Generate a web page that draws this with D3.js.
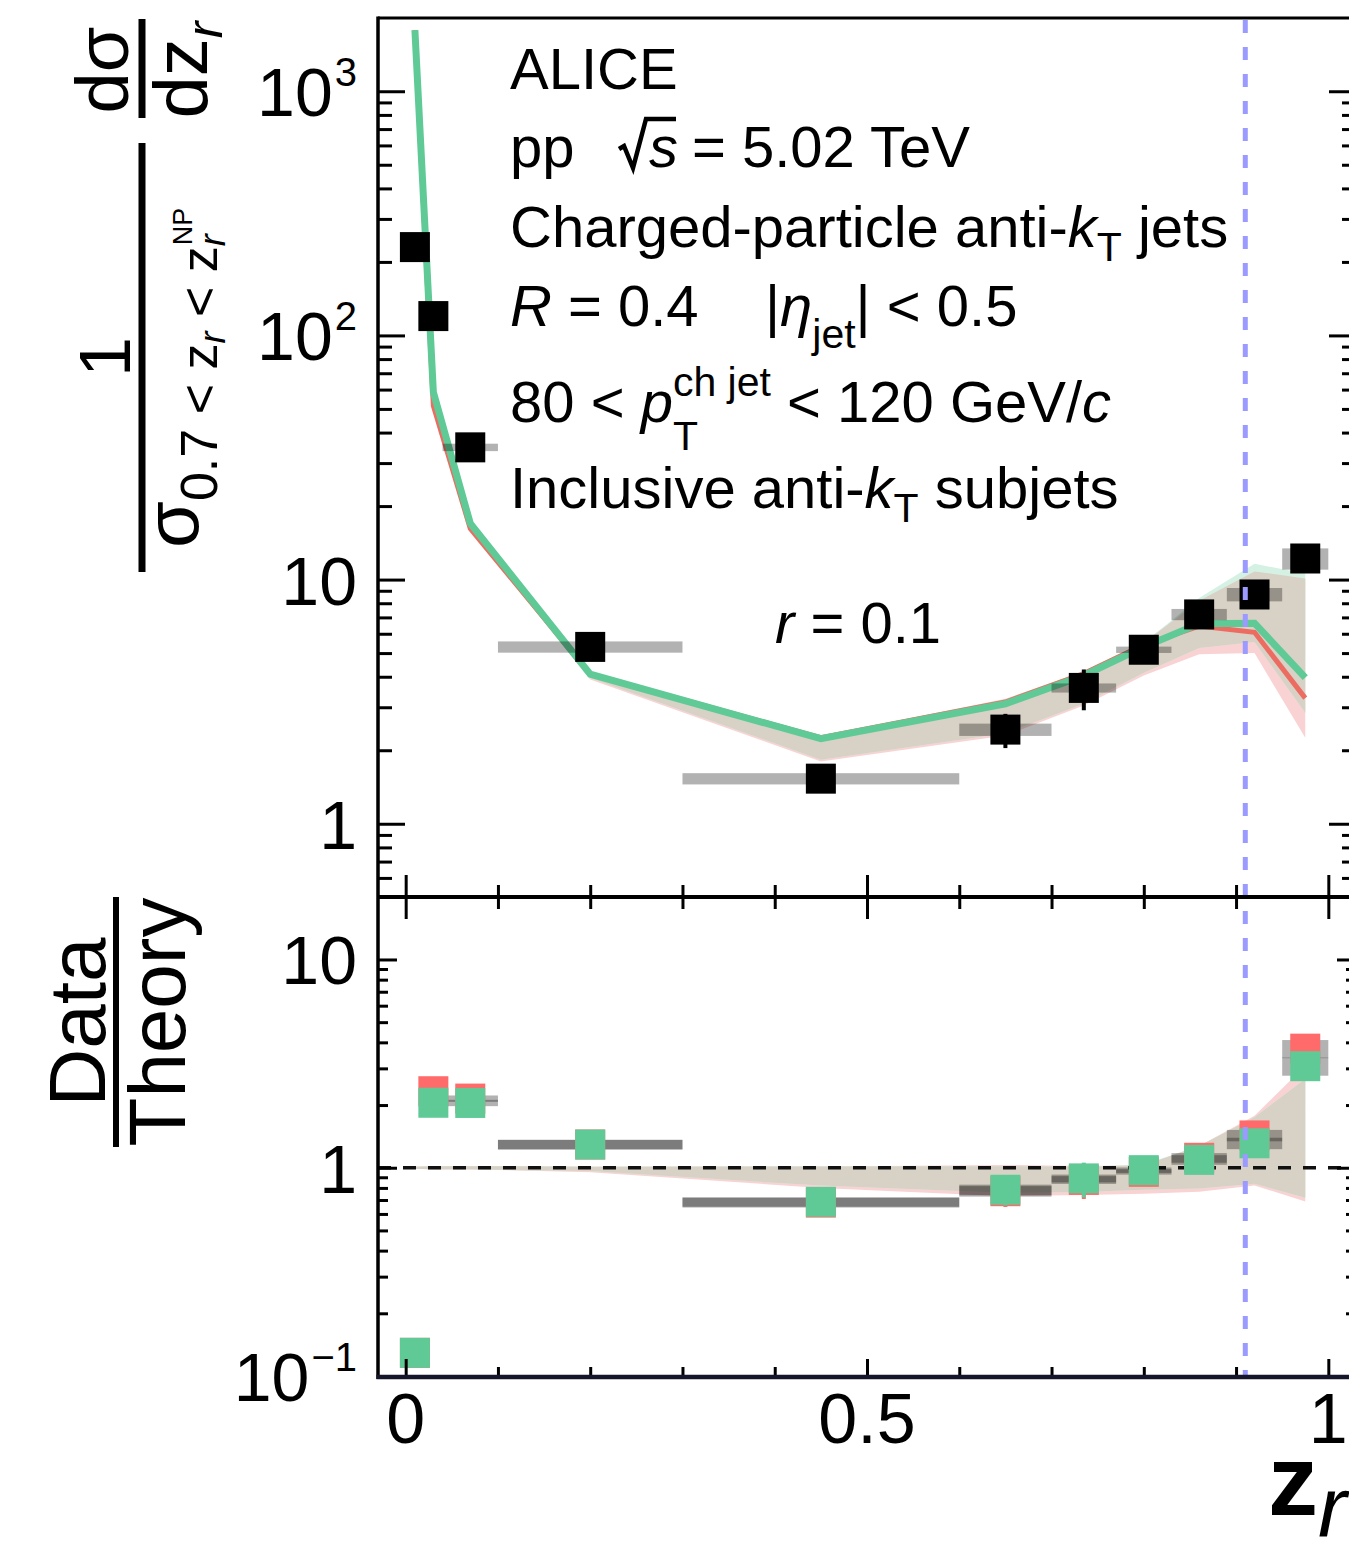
<!DOCTYPE html>
<html>
<head>
<meta charset="utf-8">
<script src="https://cdn.jsdelivr.net/npm/d3@7"></script>
<style>
  html, body { margin: 0; padding: 0; background: #fff; }
  svg { display: block; font-family: "Liberation Sans", Arial, Helvetica, sans-serif; }
</style>
</head>
<body>
<svg id="chart" width="1349" height="1545"></svg>
<script>
// ---- measured distribution, binned in z_r ----
const binLow    = [0, 0.02, 0.04, 0.1, 0.3, 0.6, 0.7, 0.77, 0.83, 0.89, 0.95];
const binHigh   = [0.02, 0.04, 0.1, 0.3, 0.6, 0.7, 0.77, 0.83, 0.89, 0.95, 1.0];
const binCenter = [0.01, 0.03, 0.07, 0.2, 0.45, 0.65, 0.735, 0.8, 0.86, 0.92, 0.975];
const dataValue = [230, 120, 34.8, 5.3, 1.53, 2.43, 3.6, 5.16, 7.2, 8.69, 12.2];
const dataStat  = [0.01, 0.02, 0.02, 0.03, 0.05, 0.16, 0.19, 0.05, 0.05, 0.06, 0.06]; // relative
const dataSys   = [0.05, 0.05, 0.035, 0.053, 0.053, 0.058, 0.043, 0.03, 0.053, 0.063, 0.1]; // relative

// ---- theory predictions at the bin centres (green and red calculations) ----
const greenCentral = [1780, 58.5, 17.0, 4.1, 2.23, 3.1, 4.05, 5.3, 6.6, 6.63, 3.97];
const greenLow     = [1760, 57.5, 16.7, 3.95, 1.83, 2.35, 3.1, 4.15, 5.25, 5.55, 2.85];
const greenHigh    = [1800, 59.5, 17.3, 4.15, 2.26, 3.15, 4.1, 5.5, 8.4, 11.6, 10.6];
const redCentral   = [1780, 51.5, 16.2, 4.1, 2.25, 3.15, 4.12, 5.4, 6.45, 6.08, 3.27];
const redLow       = [1760, 50.5, 15.9, 3.9, 1.80, 2.3, 3.05, 4.05, 4.95, 5.0, 2.25];
const redHigh      = [1800, 52.5, 16.5, 4.15, 2.28, 3.25, 4.2, 5.55, 8.2, 10.8, 10.1];

// non-perturbative boundary z_r^NP
const zNP = 0.91;

// ---- axis ticks ----
const xMajor = [0, 0.5, 1];
const xMinor = [0.1, 0.2, 0.3, 0.4, 0.6, 0.7, 0.8, 0.9];
const xTickLabels = ["0", "0.5", "1"];
const topMajor = [1, 10, 100, 1000];
const topLabels = [["1", ""], ["10", ""], ["10", "2"], ["10", "3"]];
const ratioMajor = [0.1, 1, 10];
const ratioLabels = [["10", "\u22121"], ["1", ""], ["10", ""]];

function minorLog(lo, hi) {
  const out = [];
  for (let d = -2; d <= 4; d++) for (let m = 2; m <= 9; m++) {
    const v = m * Math.pow(10, d);
    if (v > lo * 1.0001 && v < hi * 0.9999) out.push(v);
  }
  return out;
}

// ---- geometry ----
const svg = d3.select("#chart");
const frameL = 378, frameR = 1356, topT = 18, midY = 897, botY = 1377;
const x = d3.scaleLinear().domain([-0.03, 1.03]).range([frameL, frameR]);
const yTop = d3.scaleLog().domain([Math.pow(10, -0.3), Math.pow(10, 3.3)]).range([midY, topT]);
const yRat = d3.scaleLog().domain([0.1, Math.pow(10, 1.3)]).range([1376, midY]);

const colGreen = "#5fca96", colRed = "#ec6c62", colRedSq = "#ff6a6a";
const colPink = "#f9d3d3", colMint = "#d5f1e3", colTan = "#d8d1c5";

const defs = svg.append("defs");
defs.append("clipPath").attr("id", "clipTop").append("rect")
  .attr("x", frameL).attr("y", topT).attr("width", frameR - frameL).attr("height", midY - topT);
defs.append("clipPath").attr("id", "clipRat").append("rect")
  .attr("x", frameL).attr("y", midY).attr("width", frameR - frameL).attr("height", botY - midY);

// rows for the theory nodes
const nodes = binCenter.map((z, i) => ({
  z,
  g: greenCentral[i], gLo: greenLow[i], gHi: greenHigh[i],
  r: redCentral[i], rLo: redLow[i], rHi: redHigh[i]
}));
const points = binCenter.map((z, i) => ({
  z, lo: binLow[i], hi: binHigh[i], v: dataValue[i], stat: dataStat[i], sys: dataSys[i],
  ratG: dataValue[i] / greenCentral[i], ratR: dataValue[i] / redCentral[i]
}));

function band(yScale, lo, hi) {
  return d3.area().x(d => x(d.z)).y0(d => yScale(lo(d))).y1(d => yScale(hi(d)));
}
function curve(yScale, f) {
  return d3.line().x(d => x(d.z)).y(d => yScale(f(d)));
}

// ================= upper panel =================
const mainG = svg.append("g").attr("clip-path", "url(#clipTop)");
mainG.append("path").datum(nodes).attr("fill", colPink).attr("d", band(yTop, d => d.rLo, d => d.rHi));
mainG.append("path").datum(nodes).attr("fill", colMint).attr("d", band(yTop, d => d.gLo, d => d.gHi));
mainG.append("path").datum(nodes).attr("fill", colTan)
  .attr("d", band(yTop, d => Math.max(d.gLo, d.rLo), d => Math.min(d.gHi, d.rHi)));
mainG.append("path").datum(nodes).attr("fill", "none").attr("stroke", colRed).attr("stroke-width", 5)
  .attr("d", curve(yTop, d => d.r));
mainG.append("path").datum(nodes).attr("fill", "none").attr("stroke", colGreen).attr("stroke-width", 7)
  .attr("d", curve(yTop, d => d.g));

// systematic boxes
mainG.selectAll("rect.sys").data(points).join("rect").attr("class", "sys")
  .attr("x", d => x(d.lo)).attr("width", d => x(d.hi) - x(d.lo))
  .attr("y", d => yTop(d.v * (1 + d.sys))).attr("height", d => yTop(d.v * (1 - d.sys)) - yTop(d.v * (1 + d.sys)))
  .attr("fill", "#000").attr("fill-opacity", 0.3);
// statistical bars
mainG.selectAll("line.stat").data(points).join("line").attr("class", "stat")
  .attr("x1", d => x(d.z)).attr("x2", d => x(d.z))
  .attr("y1", d => yTop(d.v * (1 + d.stat))).attr("y2", d => yTop(d.v * (1 - d.stat)))
  .attr("stroke", "#000").attr("stroke-width", 4);
// markers
const sq = 30;
mainG.selectAll("rect.pt").data(points).join("rect").attr("class", "pt")
  .attr("x", d => x(d.z) - sq / 2).attr("y", d => yTop(d.v) - sq / 2)
  .attr("width", sq).attr("height", sq).attr("fill", "#000");

// ================= ratio panel =================
const ratG = svg.append("g").attr("clip-path", "url(#clipRat)");
ratG.append("path").datum(nodes).attr("fill", colPink).attr("d", band(yRat, d => d.rLo / d.r, d => d.rHi / d.r));
ratG.append("path").datum(nodes).attr("fill", colMint).attr("d", band(yRat, d => d.gLo / d.g, d => d.gHi / d.g));
ratG.append("path").datum(nodes).attr("fill", colTan)
  .attr("d", band(yRat, d => Math.max(d.gLo / d.g, d.rLo / d.r), d => Math.min(d.gHi / d.g, d.rHi / d.r)));
ratG.append("line").attr("x1", frameL).attr("x2", frameR).attr("y1", yRat(1)).attr("y2", yRat(1))
  .attr("stroke", "#111").attr("stroke-width", 3.5).attr("stroke-dasharray", "13,12");

["ratR", "ratG"].forEach(k => {
  ratG.selectAll("rect.sys" + k).data(points).join("rect").attr("class", "sys" + k)
    .attr("x", d => x(d.lo)).attr("width", d => x(d.hi) - x(d.lo))
    .attr("y", d => yRat(d[k] * (1 + d.sys))).attr("height", d => yRat(d[k] * (1 - d.sys)) - yRat(d[k] * (1 + d.sys)))
    .attr("fill", "#000").attr("fill-opacity", 0.3);
});
[["ratR", colRedSq], ["ratG", colGreen]].forEach(([k, c]) => {
  ratG.selectAll("line.st" + k).data(points).join("line").attr("class", "st" + k)
    .attr("x1", d => x(d.z)).attr("x2", d => x(d.z))
    .attr("y1", d => yRat(d[k] * (1 + d.stat))).attr("y2", d => yRat(d[k] * (1 - d.stat)))
    .attr("stroke", c).attr("stroke-width", 4);
  ratG.selectAll("rect.pt" + k).data(points).join("rect").attr("class", "pt" + k)
    .attr("x", d => x(d.z) - sq / 2).attr("y", d => yRat(d[k]) - sq / 2)
    .attr("width", sq).attr("height", sq).attr("fill", c);
});

// z_r^NP marker across both panels
svg.append("line").attr("x1", x(zNP)).attr("x2", x(zNP)).attr("y1", topT + 2).attr("y2", botY)
  .attr("stroke", "#9a9aff").attr("stroke-width", 5).attr("stroke-dasharray", "13,14");

// ================= axes =================
function yTicks(scale, xPos, vals, len, dir) {
  const ax = (dir > 0 ? d3.axisLeft(scale).tickSize(-len) : d3.axisRight(scale).tickSize(-len))
    .tickValues(vals).tickFormat("");
  const g = svg.append("g").attr("transform", `translate(${xPos},0)`).call(ax);
  g.select(".domain").remove();
  g.selectAll(".tick line").attr("stroke", "#000").attr("stroke-width", 3);
}
yTicks(yTop, frameL, topMajor, 27, 1);
yTicks(yTop, frameL, minorLog(yTop.domain()[0], yTop.domain()[1]), 14, 1);
yTicks(yTop, frameR, topMajor, 27, -1);
yTicks(yTop, frameR, minorLog(yTop.domain()[0], yTop.domain()[1]), 14, -1);
yTicks(yRat, frameL, ratioMajor, 19, 1);
yTicks(yRat, frameL, minorLog(0.1, yRat.domain()[1]), 10, 1);
yTicks(yRat, frameR, ratioMajor, 19, -1);
yTicks(yRat, frameR, minorLog(0.1, yRat.domain()[1]), 10, -1);

function xTicks(yPos, vals, up, down) {
  if (up > 0) {
    const g = svg.append("g").attr("transform", `translate(0,${yPos})`)
      .call(d3.axisTop(x).tickValues(vals).tickSize(up).tickFormat(""));
    g.select(".domain").remove();
    g.selectAll(".tick line").attr("stroke", "#000").attr("stroke-width", 3);
  }
  if (down > 0) {
    const g = svg.append("g").attr("transform", `translate(0,${yPos})`)
      .call(d3.axisBottom(x).tickValues(vals).tickSize(down).tickFormat(""));
    g.select(".domain").remove();
    g.selectAll(".tick line").attr("stroke", "#000").attr("stroke-width", 3);
  }
}
xTicks(midY, xMajor, 22, 22);
xTicks(midY, xMinor, 12, 12);
xTicks(botY, xMajor, 18, 0);
xTicks(botY, xMinor, 10, 0);

// frame
svg.append("line").attr("x1", frameL).attr("x2", frameR).attr("y1", topT).attr("y2", topT)
  .attr("stroke", "#000").attr("stroke-width", 3);
svg.append("line").attr("x1", frameL).attr("x2", frameL).attr("y1", topT - 1.5).attr("y2", botY + 2)
  .attr("stroke", "#000").attr("stroke-width", 3.5);
svg.append("line").attr("x1", frameR).attr("x2", frameR).attr("y1", topT).attr("y2", botY)
  .attr("stroke", "#000").attr("stroke-width", 3.5);
svg.append("line").attr("x1", frameL).attr("x2", frameR).attr("y1", midY).attr("y2", midY)
  .attr("stroke", "#000").attr("stroke-width", 4);
svg.append("line").attr("x1", frameL - 1.5).attr("x2", frameR).attr("y1", botY).attr("y2", botY)
  .attr("stroke", "#15152b").attr("stroke-width", 4.5);

// tick labels
function powLabel(yScale, vals, labels) {
  vals.forEach((v, i) => {
    const t = svg.append("text").attr("x", 357).attr("y", yScale(v) + 25)
      .attr("text-anchor", "end").attr("font-size", 68);
    t.append("tspan").text(labels[i][0]);
    if (labels[i][1]) t.append("tspan").attr("font-size", 40).attr("dx", 2).attr("dy", -30).text(labels[i][1]);
  });
}
powLabel(yTop, topMajor, topLabels);
powLabel(yRat, ratioMajor, ratioLabels);
xMajor.forEach((v, i) => {
  svg.append("text").attr("x", x(v)).attr("y", 1443).attr("text-anchor", "middle")
    .attr("font-size", 70).text(xTickLabels[i]);
});

// ================= text helpers =================
function rich(parent, px, py, size, parts, anchor) {
  const t = parent.append("text").attr("x", px).attr("y", py).attr("font-size", size);
  if (anchor) t.attr("text-anchor", anchor);
  let cur = 0;
  const spans = parts.map(p => {
    const s = t.append("tspan").text(p.t);
    const shift = p.shift || 0;
    if (shift - cur !== 0) s.attr("dy", shift - cur);
    cur = shift;
    if (p.i) s.attr("font-style", "italic");
    if (p.b) s.attr("font-weight", "bold");
    if (p.size) s.attr("font-size", p.size);
    if (p.dx) s.attr("dx", p.dx);
    return s;
  });
  return { t, spans };
}

// x-axis title
rich(svg, 1268, 1515, 100, [{ t: "z", b: true }, { t: "r", i: true, size: 86, shift: 22 }]);

// ---- upper panel y title (rotated) ----
const yt = svg.append("g").attr("transform", "translate(0,600) rotate(-90)");
yt.append("line").attr("x1", 600 - 118).attr("x2", 600 - 19).attr("y1", 142).attr("y2", 142)
  .attr("stroke", "#000").attr("stroke-width", 7);
rich(yt, 530, 128, 74, [{ t: "d\u03c3" }], "middle");
rich(yt, 530, 207, 76, [{ t: "dz" }, { t: "r", i: true, size: 50, shift: 15 }], "middle");
yt.append("line").attr("x1", 600 - 572).attr("x2", 600 - 143).attr("y1", 142).attr("y2", 142)
  .attr("stroke", "#000").attr("stroke-width", 7);
rich(yt, 243, 130, 72, [{ t: "1" }], "middle");
rich(yt, 52, 198, 76, [
  { t: "\u03c3" },
  { t: "0.7 < z", size: 52, shift: 19 },
  { t: "r", i: true, size: 36, shift: 27 },
  { t: " < z", size: 52, shift: 19 },
  { t: "r", i: true, size: 36, shift: 27 },
  { t: "NP", size: 27, shift: -6, dx: -11 }
]);

// ---- ratio panel y title (rotated) ----
const rt = svg.append("g").attr("transform", "translate(0,1022) rotate(-90)");
rt.append("line").attr("x1", -125).attr("x2", 125).attr("y1", 116).attr("y2", 116)
  .attr("stroke", "#000").attr("stroke-width", 6);
rich(rt, 0, 105, 80, [{ t: "Data" }], "middle");
rich(rt, 0, 185, 80, [{ t: "Theory" }], "middle");

// ---- labels inside the upper panel ----
const fs = 58;
rich(svg, 510, 89, fs, [{ t: "ALICE" }]);
rich(svg, 510, 167, fs, [{ t: "pp" }]);
svg.append("path").attr("d", "M619,149 L624,146 L633,168 L646,119 L676,119")
  .attr("fill", "none").attr("stroke", "#000").attr("stroke-width", 4.5).attr("stroke-linejoin", "miter");
rich(svg, 649, 167, fs, [{ t: "s", i: true }]);
rich(svg, 692, 167, fs, [{ t: "= 5.02 TeV" }]);
rich(svg, 510, 247, fs, [
  { t: "Charged-particle anti-" }, { t: "k", i: true },
  { t: "T", size: 41, shift: 14 }, { t: " jets", shift: 0 }
]);
rich(svg, 510, 326, fs, [{ t: "R", i: true }, { t: " = 0.4" }]);
rich(svg, 765, 326, fs, [
  { t: "|" }, { t: "\u03b7", i: true }, { t: "jet", size: 41, shift: 22 }, { t: "| < 0.5", shift: 0 }
]);
{
  const l5 = rich(svg, 510, 422, fs, [
    { t: "80 < " }, { t: "p", i: true }, { t: "ch jet", size: 41, shift: -26 },
    { t: " < 120 GeV/", shift: 0 }, { t: "c", i: true }
  ]);
  const supX = l5.spans[2].node().getStartPositionOfChar(0).x;
  rich(svg, supX, 450, 41, [{ t: "T" }]);
}
rich(svg, 510, 508, fs, [
  { t: "Inclusive anti-" }, { t: "k", i: true },
  { t: "T", size: 41, shift: 14 }, { t: " subjets", shift: 0 }
]);
rich(svg, 775, 643, fs, [{ t: "r", i: true }, { t: " = 0.1" }]);
</script>
</body>
</html>
